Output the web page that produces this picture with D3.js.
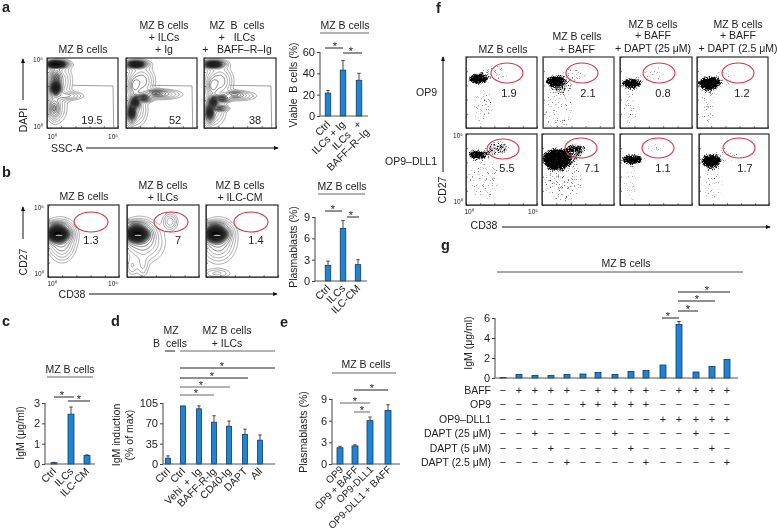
<!DOCTYPE html>
<html><head><meta charset="utf-8">
<script src="https://cdn.jsdelivr.net/npm/d3@7"></script>
<style>
html,body{margin:0;padding:0;background:#fff}
svg{display:block;filter:blur(0.3px)}
text{font-family:"Liberation Sans",Arial,sans-serif;fill:#222}
</style></head><body>
<svg id="c" width="777" height="531" xmlns="http://www.w3.org/2000/svg"></svg>
<script>
// ---------- bar data ----------
const aCats=["Ctrl","ILCs + Ig","ILCs   +\nBAFF–R–Ig"], aVals=[21.5,43,33.5], aErr=[24,52,40], aTicks=[0,20,40,60];
const bCats=["Ctrl","ILCs","ILC-CM"], bVals=[2.2,7.4,2.3], bErr=[2.8,8.5,3.0], bTicks=[0,3,6,9];
const cCats=["Ctrl","ILCs","ILC-CM"], cVals=[0.06,2.45,0.42], cErr=[0.08,2.8,0.45], cTicks=[0,1,2,3];
const dCats=["Ctrl","Ctrl","Vehi  +  Ig","BAFF-R-Ig","CD40-Ig","DAPT","All"], dVals=[10,100,95,72,65,51,41], dErr=[14,100,100,83,74,60,50], dTicks=[0,35,70,105];
const eCats=["OP9","OP9 + BAFF","OP9-DLL1","OP9-DLL1 + BAFF"], eVals=[2.25,2.5,6,7.4], eErr=[2.45,2.65,6.5,8.2], eTicks=[0,3,6,9];
const gVals=[0.05,0.35,0.25,0.25,0.35,0.4,0.55,0.35,0.65,0.75,1.3,5.35,0.6,1.15,1.85];
const gErr=[0.05,0.35,0.25,0.25,0.35,0.4,0.55,0.35,0.65,0.75,1.3,5.65,0.6,1.15,1.85];
const gTicks=[0,2,4,6];
const gRowLabels=["BAFF","OP9","OP9–DLL1","DAPT (25 μM)","DAPT (5 μM)","DAPT (2.5 μM)"];
const gRows=["-++++-++++-++++","-----+++++-----","----------+++++","--+----+----+--","---+----+----+-","----+----+----+"];
// ---------- flow data: [cx, cy, rx, ry, weight] in panel fractions ----------
const aBlobs1=[[.14,.09,.07,.022,1],[.1,.09,.04,.02,.7],[.16,.09,.1,.04,.12],[.12,.43,.04,.055,.75],[.13,.28,.04,.07,.25],[.2,.33,.09,.14,.1],[.1,.72,.04,.08,.2],[.13,.72,.09,.13,.08],[.3,.54,.12,.035,.1]];
const aBlobs2=[[.14,.09,.07,.022,.8],[.16,.09,.1,.04,.12],[.22,.33,.1,.12,.14],[.08,.78,.03,.07,.55],[.13,.63,.035,.05,.55],[.25,.57,.06,.03,.4],[.42,.5,.08,.025,.2],[.5,.52,.16,.04,.12],[.12,.75,.1,.13,.12],[.12,.4,.04,.07,.12]];
const aBlobs3=[[.13,.09,.07,.022,.8],[.15,.09,.1,.04,.12],[.22,.33,.1,.12,.14],[.08,.78,.03,.07,.5],[.13,.63,.035,.05,.5],[.25,.58,.06,.025,.35],[.42,.52,.07,.025,.15],[.48,.54,.14,.04,.1],[.22,.72,.06,.02,.25],[.12,.75,.1,.13,.12],[.12,.4,.04,.07,.12]];
const bBlobs1=[[.13,.4,.09,.06,1],[.1,.28,.09,.03,.12],[.17,.42,.13,.13,.14],[.2,.6,.1,.12,.08]];
const bBlobs2=[[.13,.4,.09,.06,1],[.1,.27,.09,.03,.12],[.17,.42,.14,.13,.14],[.25,.55,.16,.15,.08],[.6,.23,.06,.07,.1],[.07,.85,.05,.08,.05],[.22,.85,.05,.1,.05]];
const bBlobs3=[[.13,.4,.09,.06,1],[.1,.28,.09,.03,.12],[.17,.42,.13,.13,.14],[.17,.6,.13,.13,.08],[.15,.95,.12,.04,.06]];
const fBlobs=[
 [[.17,.31,.15,.075,1],[.4,.22,.22,.12,.34],[.25,.7,.17,.3,.31]],
 [[.17,.34,.14,.08,1],[.42,.25,.2,.12,.36],[.2,.75,.25,.3,.31],[.25,.42,.17,.1,.45]],
 [[.16,.37,.15,.07,1],[.45,.25,.2,.12,.3],[.15,.7,.12,.32,.3]],
 [[.17,.37,.16,.1,1],[.4,.3,.2,.14,.31],[.15,.65,.12,.34,.33]],
 [[.16,.29,.14,.06,1],[.45,.2,.18,.1,.55],[.25,.6,.24,.35,.32]],
 [[.2,.35,.2,.15,1],[.47,.2,.16,.07,.65],[.3,.65,.28,.32,.36],[.4,.3,.2,.12,.5]],
 [[.17,.36,.16,.07,1],[.5,.2,.18,.1,.3],[.15,.7,.12,.28,.29]],
 [[.17,.38,.15,.1,1],[.4,.3,.18,.12,.31],[.2,.7,.15,.28,.32]]
];
const fNumbers=["1.9","2.1","0.8","1.2","5.5","7.1","1.1","1.7"];
const aNumbers=["19.5","52","38"], bNumbers=["1.3","7","1.4"];

const svg=d3.select("#c");
const defs=svg.append("defs");
const mk=defs.append("marker").attr("id","ah").attr("viewBox","0 0 6 6").attr("refX",5).attr("refY",3).attr("markerWidth",5).attr("markerHeight",5).attr("orient","auto");
mk.append("path").attr("d","M0,.5L6,3L0,5.5Z").attr("fill","#111");
const st=defs.append("filter").attr("id","stipple").attr("x","-30%").attr("y","-30%").attr("width","160%").attr("height","160%").attr("color-interpolation-filters","sRGB");
st.append("feGaussianBlur").attr("in","SourceAlpha").attr("stdDeviation",2.2).attr("result","b");
st.append("feTurbulence").attr("type","fractalNoise").attr("baseFrequency",1.5).attr("numOctaves",1).attr("seed",4).attr("result","n");
st.append("feColorMatrix").attr("in","n").attr("type","matrix").attr("values","0 0 0 0 0  0 0 0 0 0  0 0 0 0 0  1 0 0 0 0").attr("result","na");
st.append("feComposite").attr("in","b").attr("in2","na").attr("operator","arithmetic").attr("k1",0).attr("k2",2.2).attr("k3",2.5).attr("k4",-2.25).attr("result","c");
const ct=st.append("feComponentTransfer").attr("in","c");
ct.append("feFuncA").attr("type","linear").attr("slope",1.5);

function txt(x,y,s,o={}){
  const t=svg.append("text").attr("x",x).attr("y",y).text(s)
   .attr("font-size",o.size||10.5).attr("text-anchor",o.anchor||"middle").style("white-space","pre");
  if(o.bold)t.attr("font-weight","bold");
  if(o.rot!==undefined)t.attr("transform",`rotate(${o.rot} ${x} ${y})`);
  return t;
}
function line(x1,y1,x2,y2,c="#222",w=1,arrow=false){
  const l=svg.append("line").attr("x1",x1).attr("y1",y1).attr("x2",x2).attr("y2",y2).attr("stroke",c).attr("stroke-width",w);
  if(arrow)l.attr("marker-end","url(#ah)");
}
function star(x,y){txt(x,y+3,"*",{size:11})}
function sig(x1,x2,y,sx,c="#222"){line(x1,y,x2,y,c,1);star(sx,y-1);}
function header(cx,base,lineY,x1,x2){txt(cx,base,"MZ B cells");line(x1,lineY,x2,lineY,"#666",1);}

function barChart(o){
  const x=d3.scaleLinear().domain(o.centers.map((_,i)=>i)).range(o.centers);
  const y=d3.scaleLinear().domain([0,o.ticks[o.ticks.length-1]]).range([o.y0,o.y1]);
  const g=svg.append("g");
  const bw=o.bw||5.5;
  g.selectAll(".e").data(o.vals).join("path").attr("fill","none").attr("stroke","#333").attr("stroke-width",.9)
   .attr("d",(d,i)=>{const e=y(o.err[i]),c=x(i);return o.err[i]>d?`M${c},${y(d)}V${e}M${c-1.7},${e}H${c+1.7}`:""});
  g.selectAll(".b").data(o.vals).join("rect").attr("x",(d,i)=>x(i)-bw/2).attr("width",bw).attr("y",d=>y(d)).attr("height",d=>o.y0-y(d))
   .attr("fill","#1f84d6").attr("stroke","#123a5c").attr("stroke-width",.8);
  const ax=g.append("g").attr("transform",`translate(${o.x0},0)`).call(d3.axisLeft(y).tickValues(o.ticks).tickSize(3).tickPadding(2).tickFormat(d3.format("d")));
  ax.selectAll("text").attr("font-size",o.tickSize||11).attr("font-family",null);
  ax.selectAll("line,path").attr("stroke","#444");
  ax.select(".domain").attr("d",`M0,${o.y1}V${o.y0}`);
  line(o.x0,o.y0,o.x1,o.y0,"#555",1);
  if(o.cats) o.cats.forEach((c,i)=>{
    const px=x(i)+(o.lx||4), py=o.y0+(o.ly||9);
    const parts=c.split("\n");
    const t=svg.append("text").attr("transform",`translate(${px},${py}) rotate(-45)`).attr("text-anchor","end").attr("font-size",o.lsize||10.5);
    parts.forEach((p,k)=>t.append("tspan").attr("x",0).attr("dy",k?"1.05em":0).style("white-space","pre").text(p));
  });
  return {x,y};
}

function box(x0,y0,x1,y1,o={}){
  return {sx:d3.scaleLinear().domain([0,1]).range([x0,x1]),sy:d3.scaleLinear().domain([0,1]).range([y0,y1]),x0,y0,x1,y1,...o};
}
let clipId=0;
function drawBorder(p){
  const g=svg.append("g");
  g.append("g").attr("transform",`translate(0,${p.y1})`).call(d3.axisTop(p.sx).tickValues([.2,.4,.6,.8]).tickSize(2).tickFormat("")).selectAll("line,path").attr("stroke","#444").attr("stroke-width",.7);
  g.append("g").attr("transform",`translate(${p.x0},0)`).call(d3.axisRight(p.sy).tickValues([.2,.4,.6,.8]).tickSize(2).tickFormat("")).selectAll("line,path").attr("stroke","#444").attr("stroke-width",.7);
  g.append("rect").attr("x",p.x0).attr("y",p.y0).attr("width",p.x1-p.x0).attr("height",p.y1-p.y0).attr("fill","none").attr("stroke",p.edge||"#1a1a1a").attr("stroke-width",p.ew||1.1);
}
function clip(p){
  const id="cp"+(clipId++);
  defs.append("clipPath").attr("id",id).append("rect").attr("x",p.x0).attr("y",p.y0).attr("width",p.x1-p.x0).attr("height",p.y1-p.y0);
  return svg.append("g").attr("clip-path",`url(#${id})`);
}
const levels=[.02,.035,.055,.08,.11,.15,.2,.25,.3,.35,.4,.45,.5,.55,.6,.65,.7,.75,.8,.85,.9,.95];
function contourPanel(p,blobs,holes){
  const n=90,m=90,vals=new Float64Array(n*m);
  for(let j=0;j<m;j++)for(let i=0;i<n;i++){
    const fx=(i+.5)/n,fy=(j+.5)/m;let v=0;
    blobs.forEach(([cx,cy,rx,ry,w])=>{v+=w*Math.exp(-.5*(((fx-cx)/rx)**2+((fy-cy)/ry)**2));});
    vals[j*n+i]=v;
  }
  const cs=d3.contours().size([n,m]).thresholds(levels)(vals);
  const gp=d3.geoPath(d3.geoTransform({point(a,b){this.stream.point(p.sx(a/n),p.sy(b/m));}}));
  const g=clip(p);
  g.selectAll("path").data(cs).join("path").attr("d",gp)
   .attr("fill",d=>d.value>.15?"rgba(0,0,0,.2)":"none").attr("stroke",d=>d.value>.1?"#222":"#666").attr("stroke-width",.55);
  (holes||[]).forEach(([cx,cy,rx,ry])=>g.append("ellipse").attr("cx",p.sx(cx)).attr("cy",p.sy(cy)).attr("rx",p.sx(rx)-p.sx(0)).attr("ry",p.sy(ry)-p.sy(0)).attr("fill","#eee"));
  return g;
}
function dotPanel(p,blobs){
  const g=clip(p).append("g").attr("filter","url(#stipple)");
  g.selectAll("ellipse").data(blobs).join("ellipse")
   .attr("cx",d=>p.sx(d[0])).attr("cy",d=>p.sy(d[1])).attr("rx",d=>p.sx(d[2])-p.sx(0)).attr("ry",d=>p.sy(d[3])-p.sy(0))
   .attr("fill","#000").attr("fill-opacity",d=>d[4]);
}
function gate(p,cx,cy,rx,ry){
  svg.append("ellipse").attr("cx",cx).attr("cy",cy).attr("rx",rx).attr("ry",ry).attr("fill","none").attr("stroke","#d2364a").attr("stroke-width",1.1);
}
function tick10(x,y,s){txt(x,y,s,{size:6.5});}

// ---------- panel letters ----------
[["a",2,12],["b",2,177],["c",2,326],["d",111,326],["e",280,327],["f",436,13],["g",441,250]].forEach(d=>txt(d[1],d[2],d[0],{bold:true,size:14.5,anchor:"start"}));

// ---------- panel a ----------
const aBoxes=[box(47,58,118,128),box(126,58,197,128),box(204,58,276,128)];
[aBlobs1,aBlobs2,aBlobs3].forEach((b,i)=>{
  const p=aBoxes[i]; contourPanel(p,b);
  svg.append("path").attr("fill","none").attr("stroke","#888").attr("stroke-width",.8)
    .attr("d",d3.line()([[p.sx(.36),p.sy(.39)],[p.sx(.93),p.sy(.4)],[p.sx(.94),p.sy(1)]]));
  drawBorder(p);
  txt([92,175,255][i],124,aNumbers[i],{size:11});
});
txt(83,53,"MZ B cells");
txt(164,29,"MZ B cells");txt(164,41,"+ ILCs");txt(164,53,"+ Ig");
txt(237,29,"MZ  B  cells");txt(237,41,"+   ILCs");txt(237,53,"+   BAFF–R–Ig");
tick10(38,62,"10⁵");tick10(38,129,"10⁰");tick10(52,139,"10⁰");tick10(113,139,"10⁵");
txt(27,120,"DAPI",{rot:-90,size:10.5});
line(23,100,23,59,"#111",1,true);
txt(67,152,"SSC-A");line(86,148,278,148,"#111",1,true);
txt(297,85,"Viable  B cells (%)",{rot:-90});
barChart({centers:[328,343,359],vals:aVals,err:aErr,ticks:aTicks,cats:aCats,x0:320,x1:368,y0:116,y1:52,lx:3,ly:9});
header(345,29,33,320,369);
sig(325,343,48,335);sig(343,362,53,351);

// ---------- panel b ----------
const bBoxes=[box(48,205,119,277),box(127,205,199,277),box(206,205,278,277)];
[bBlobs1,bBlobs2,bBlobs3].forEach((b,i)=>{
  const p=bBoxes[i];
  contourPanel(p,b,[[.155,.42,.05,.008]]);
  drawBorder(p);
  gate(p,[91,171,251][i],222,17,10);
  txt([91,178,256][i],244,bNumbers[i],{size:11});
});
txt(84,200,"MZ B cells");
txt(163,189,"MZ B cells");txt(163,201,"+ ILCs");
txt(240,189,"MZ B cells");txt(240,201,"+ ILC-CM");
tick10(39,210,"10⁵");tick10(39,276,"10⁰");tick10(52,286,"10⁰");tick10(113,286,"10⁵");
txt(27,262,"CD27",{rot:-90});line(23,239,23,207,"#111",1,true);
txt(72,298,"CD38");line(89,294,277,294,"#111",1,true);
txt(297,247,"Plasmablasts (%)",{rot:-90});
barChart({centers:[328,343,358],vals:bVals,err:bErr,ticks:bTicks,cats:bCats,x0:315,x1:367,y0:281,y1:217,lx:3,ly:8});
header(342,190,194,318,365);
sig(325,342,211,333);sig(347,359,217,351);

// ---------- panel c ----------
txt(70,373,"MZ B cells");line(47,377,93,377,"#666",1);
barChart({centers:[54,71,87],vals:cVals,err:cErr,ticks:cTicks,cats:cCats,x0:45,x1:95,y0:464,y1:403,lx:3,ly:8,bw:6});
sig(54,74,397,62);sig(68,90,401,79);
txt(24,433,"IgM (μg/ml)",{rot:-90});

// ---------- panel d ----------
txt(171,334,"MZ");txt(170,347,"B  cells");line(165,351,175,351,"#222",1);
txt(227,334,"MZ B cells");txt(227,347,"+ ILCs");line(180,351,275,351,"#666",1);
barChart({centers:[168,183,199,214,229,245,260],vals:dVals,err:dErr,ticks:dTicks,cats:dCats,x0:163,x1:275,y0:464,y1:403,lx:3,ly:8,bw:5});
sig(180,275,368,222);sig(180,248,378,212);sig(180,230,387,201,"#666");sig(180,214,395,196,"#666");
txt(120,435,"IgM induction",{rot:-90});txt(133,435,"(% of max)",{rot:-90});

// ---------- panel e ----------
txt(366,368,"MZ B cells");line(332,373,396,373,"#666",1);
barChart({centers:[340,355,370,388],vals:eVals,err:eErr,ticks:eTicks,cats:eCats,x0:332,x1:400,y0:464,y1:399,lx:4,ly:6,bw:6,lsize:10});
sig(354,388,390,372);sig(340,370,403,355,"#666");sig(354,370,412,362,"#666");
txt(307,432,"Plasmablasts (%)",{rot:-90});

// ---------- panel f ----------
const fBoxes=[box(466,57,537,128),box(543,57,614,128,{edge:"#555",ew:1.4}),box(620,57,692,128),box(697,57,768,128),
              box(466,134,537,205),box(542,134,614,205),box(620,134,692,205),box(699,134,769,205)];
const fGates=[[507,73],[582,73],[659,73],[738,73],[503,149],[581,148],[658,148],[739,148]];
const fNumX=[509,588,663,742,507,592,663,745];
fBoxes.forEach((p,i)=>{
  dotPanel(p,fBlobs[i]);
  drawBorder(p);
  gate(p,fGates[i][0],fGates[i][1],16,10);
  txt(fNumX[i],i<4?97:172,fNumbers[i],{size:11});
});
txt(503,53,"MZ B cells");
txt(577,40,"MZ B cells");txt(577,53,"+ BAFF");
[653,738].forEach((cx,i)=>{txt(cx,28,"MZ B cells");txt(cx,39,"+ BAFF");txt(cx,52,i?"+ DAPT (2.5 μM)":"+ DAPT (25 μM)");});
txt(437,96,"OP9",{anchor:"end"});txt(437,165,"OP9–DLL1",{anchor:"end"});
txt(446,190,"CD27",{rot:-90});line(443,172,443,57,"#111",1,true);
tick10(458,138,"10⁵");tick10(458,204,"10⁰");tick10(469,214,"10⁰");tick10(533,214,"10⁵");
txt(484,229,"CD38");line(502,227,770,227,"#111",1,true);

// ---------- panel g ----------
const gCenters=[503,519,535,551,567,583,598,615,631,646,663,679,696,712,727];
txt(626,267,"MZ B cells");line(497,272,743,272,"#555",1);
const gc=barChart({centers:gCenters,vals:gVals,err:gErr,ticks:gTicks,x0:495,x1:738,y0:378,y1:318,bw:6});
sig(662,679,318,668);sig(678,698,311,688);sig(678,715,301,697);sig(678,730,292,707);
txt(472,343,"IgM (μg/ml)",{rot:-90});
const rowY=d3.scalePoint().domain(gRowLabels).range([394,466]);
gRowLabels.forEach((lab,r)=>{
  txt(491,rowY(lab),lab,{anchor:"end"});
  gRows[r].split("").forEach((c,i)=>txt(gc.x(i),rowY(lab),c==="+"?"+":"−",{size:11}));
});
</script></body></html>
